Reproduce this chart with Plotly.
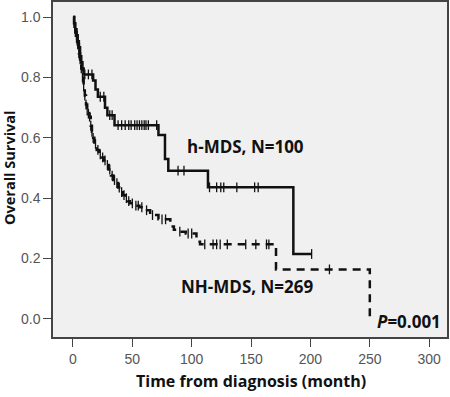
import numpy as np
import plotly.graph_objects as go

# h-MDS (N=100) Kaplan-Meier step data
h_time = [0, 1, 2, 3, 4, 5, 6, 7, 8, 9, 17, 19, 21, 27, 29, 35, 72, 77.5, 80.3, 113.7, 185.6, 201]
h_surv = [1.0, 0.98, 0.96, 0.94, 0.92, 0.90, 0.87, 0.85, 0.83, 0.81, 0.79, 0.76, 0.736, 0.70, 0.675,
          0.642, 0.609, 0.53, 0.491, 0.436, 0.215, 0.215]
h_cens = [1, 2, 3, 4, 5, 6, 7, 10, 13, 16, 23, 26, 31, 33, 38, 41, 44, 47, 49, 52, 54, 56, 58, 60,
          61.5, 63.5, 70.5, 88.5, 93.5, 115, 121, 124.5, 127, 138, 153, 156, 201]

# NH-MDS (N=269) Kaplan-Meier step data
nh_time = [0, 1, 2, 3, 4, 5, 6, 7, 8, 9, 10, 11, 12, 13, 14, 15, 16, 17, 18, 20, 22, 24, 26, 28, 30,
           32, 34, 36, 38, 40, 42, 44, 46, 48, 52, 56, 60, 65, 72, 82, 85, 88, 95, 104, 107, 171, 250]
nh_surv = [1.0, 0.98, 0.95, 0.93, 0.91, 0.88, 0.86, 0.83, 0.80, 0.77, 0.74, 0.71, 0.69, 0.68, 0.67,
           0.64, 0.62, 0.60, 0.58, 0.56, 0.545, 0.535, 0.525, 0.51, 0.495, 0.475, 0.46, 0.45, 0.435,
           0.42, 0.41, 0.40, 0.39, 0.383, 0.375, 0.37, 0.36, 0.344, 0.33, 0.306, 0.295, 0.289, 0.283,
           0.256, 0.247, 0.164, 0.0]
nh_cens = [1, 2, 3, 4, 5, 6, 7, 8, 9, 10, 11, 12, 13, 14, 15, 16, 17, 19, 21, 23, 25, 27, 29, 31, 33,
           35, 37, 39, 41, 43, 45, 47, 50, 53, 55, 58, 62, 67, 75, 78, 90, 97, 100, 111, 118, 121,
           124, 130, 145.5, 154, 163, 165, 216]

x_ticks = [0, 50, 100, 150, 200, 250, 300]
y_ticks = [0.0, 0.2, 0.4, 0.6, 0.8, 1.0]

labels = ["h-MDS, N=100", "NH-MDS, N=269"]
p_text = "<i>P</i>=0.001"
x_title = "Time from diagnosis (month)"
y_title = "Overall Survival"


def step_at(times, surv, t):
    idx = np.searchsorted(np.array(times), np.array(t), side="right") - 1
    return np.array(surv)[idx]


ink = "#111111"
fig = go.Figure()
fig.add_trace(go.Scatter(x=nh_time, y=nh_surv, mode="lines", line_shape="hv",
                         line=dict(color=ink, width=2.5, dash="8px,6px"), showlegend=False))
fig.add_trace(go.Scatter(x=h_time, y=h_surv, mode="lines", line_shape="hv",
                         line=dict(color=ink, width=2.5), showlegend=False))
fig.add_trace(go.Scatter(x=nh_cens, y=step_at(nh_time, nh_surv, nh_cens), mode="markers",
                         marker=dict(symbol="line-ns", size=7, line=dict(width=1.3, color=ink)),
                         showlegend=False))
fig.add_trace(go.Scatter(x=h_cens, y=step_at(h_time, h_surv, h_cens), mode="markers",
                         marker=dict(symbol="line-ns", size=7, line=dict(width=1.3, color=ink)),
                         showlegend=False))

bold_font = dict(family="Open Sans", size=17, color="#111111")
fig.add_annotation(x=145, y=0.57, text="<b>" + labels[0] + "</b>", showarrow=False,
                   font=bold_font, xanchor="center", yanchor="middle")
fig.add_annotation(x=147, y=0.106, text="<b>" + labels[1] + "</b>", showarrow=False,
                   font=bold_font, xanchor="center", yanchor="middle")
fig.add_annotation(x=312, y=-0.01, text="<b>" + p_text + "</b>", showarrow=False,
                   font=bold_font, xanchor="right", yanchor="middle")
fig.add_annotation(xref="paper", yref="paper", x=(251 - 53) / 394, y=-(381 - 337) / 335,
                   text="<b>" + x_title + "</b>", showarrow=False,
                   font=dict(family="Open Sans", size=16, color="#111111"),
                   xanchor="center", yanchor="middle")
fig.add_annotation(xref="paper", yref="paper", x=-(53 - 9) / 394, y=(337 - 168) / 335,
                   text="<b>" + y_title + "</b>", showarrow=False, textangle=-90,
                   font=dict(family="Open Sans", size=14.5, color="#111111"),
                   xanchor="center", yanchor="middle")

axis_common = dict(showline=True, mirror=True, linecolor="#444444", linewidth=1.5,
                   ticks="outside", ticklen=8, tickcolor="#444444", tickwidth=1.2,
                   showgrid=False, zeroline=False, automargin=False,
                   tickfont=dict(family="Liberation Sans", size=14, color="#555555"))
fig.update_xaxes(range=[-16.8, 315], tickvals=x_ticks, **axis_common)
fig.update_yaxes(range=[-0.06, 1.05], tickvals=y_ticks, tickformat=".1f", **axis_common)

fig.update_layout(width=450, height=397, margin=dict(l=53, r=3, t=2, b=60),
                  plot_bgcolor="#f0f0f0", paper_bgcolor="white")
fig.write_html("out.html", config={"displayModeBar": False},
               post_script="document.body.style.margin='0';document.body.style.padding='0';")
